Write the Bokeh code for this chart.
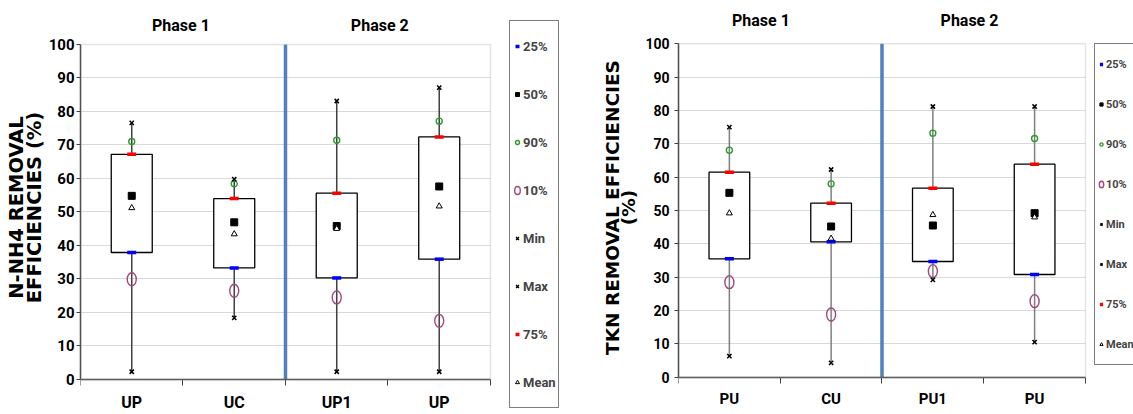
from bokeh.plotting import figure
from bokeh.models import Range1d, FixedTicker, Label, Legend, LegendItem, BoxAnnotation
from bokeh.layouts import row
from bokeh.embed import file_html
from bokeh.resources import INLINE

# ---------------- data ----------------
left_categories = ["UP", "UC", "UP1", "UP"]
left_phases = ["Phase 1", "Phase 2"]
left_min = [2.3, 18.4, 2.3, 2.3]
left_p10 = [29.9, 26.5, 24.5, 17.5]
left_p25 = [37.9, 33.3, 30.3, 35.9]
left_p50 = [54.8, 46.9, 45.8, 57.6]
left_mean = [51.2, 43.4, 45.0, 51.7]
left_p75 = [67.2, 54.0, 55.6, 72.4]
left_p90 = [71.0, 58.4, 71.4, 77.1]
left_max = [76.6, 59.8, 83.1, 87.1]

right_categories = ["PU", "CU", "PU1", "PU"]
right_phases = ["Phase 1", "Phase 2"]
right_min = [6.3, 4.3, 29.2, 10.5]
right_p10 = [28.5, 18.8, 31.8, 22.8]
right_p25 = [35.5, 40.6, 34.7, 30.8]
right_p50 = [55.3, 45.2, 45.5, 49.2]
right_mean = [49.2, 41.6, 48.7, 48.0]
right_p75 = [61.5, 52.2, 56.7, 63.9]
right_p90 = [68.1, 58.0, 73.2, 71.6]
right_max = [75.0, 62.3, 81.2, 81.2]

y_ticks = [0, 10, 20, 30, 40, 50, 60, 70, 80, 90, 100]
Y_MAX = 100

NARROW = "Roboto"
WIDE = "DejaVu Sans"


def make_chart(cats, phases, mn, p10, p25, p50, mean, p75, p90, mx, ylabel, cfg):
    n = len(cats)
    xs = [i + 0.5 for i in range(n)]
    p = figure(width=cfg["width"], height=414,
               x_range=Range1d(0, cfg["xend"]), y_range=Range1d(cfg["ybot"], cfg["ytop"]),
               output_backend="svg", toolbar_location=None,
               min_border_left=cfg["bl"], min_border_right=0,
               min_border_top=0, min_border_bottom=0)
    p.outline_line_color = None
    p.background_fill_color = "white"
    p.border_fill_color = "white"

    # plot-area border (grey)
    p.add_layout(BoxAnnotation(left=0, right=n, bottom=0, top=Y_MAX,
                               fill_alpha=0, line_color="#a6a6a6", line_width=1.5))

    # horizontal grid lines limited to the plot area
    p.xgrid.visible = False
    p.ygrid.ticker = FixedTicker(ticks=y_ticks[1:-1])
    p.ygrid.grid_line_color = "#d9d9d9"
    p.ygrid.grid_line_width = 1
    try:
        p.ygrid.cross_bounds = (0, n)
    except Exception:
        p.ygrid.visible = False
        gy = y_ticks[1:-1]
        p.segment(x0=[0] * len(gy), y0=gy, x1=[n] * len(gy), y1=gy,
                  line_color="#d9d9d9", line_width=1)

    # y axis
    p.yaxis.ticker = FixedTicker(ticks=y_ticks)
    p.yaxis.bounds = (0, Y_MAX)
    p.yaxis.axis_line_color = "#404040"
    p.yaxis.axis_line_width = 1.5
    p.yaxis.major_tick_out = 4
    p.yaxis.major_tick_in = 0
    p.yaxis.minor_tick_line_color = None
    p.yaxis.major_tick_line_color = "#404040"
    p.yaxis.major_label_text_font = NARROW
    p.yaxis.major_label_text_font_style = "bold"
    p.yaxis.major_label_text_font_size = cfg["tick_fs"]
    p.yaxis.major_label_text_color = "black"
    p.yaxis.major_label_standoff = cfg["tick_standoff"]
    p.yaxis.axis_label = ylabel
    p.yaxis.axis_label_text_font = WIDE
    p.yaxis.axis_label_text_font_style = "bold"
    p.yaxis.axis_label_text_font_size = cfg["title_fs"]
    p.yaxis.axis_label_text_line_height = cfg["title_lh"]
    p.yaxis.axis_label_text_color = "black"
    p.yaxis.axis_label_standoff = cfg["title_standoff"]

    # x axis drawn at y = 0: labels at category centres, tick marks at boundaries
    p.xaxis.fixed_location = 0
    p.xaxis.bounds = (0, n)
    p.xaxis.ticker = FixedTicker(ticks=xs, minor_ticks=list(range(n + 1)))
    p.xaxis.major_label_overrides = {x: c for x, c in zip(xs, cats)}
    p.xaxis.axis_line_color = "#404040"
    p.xaxis.axis_line_width = 1.5
    p.xaxis.major_tick_line_color = None
    p.xaxis.major_tick_out = 0
    p.xaxis.major_tick_in = 0
    p.xaxis.minor_tick_line_color = "#404040"
    p.xaxis.minor_tick_out = 6
    p.xaxis.minor_tick_in = 0
    p.xaxis.major_label_text_font = NARROW
    p.xaxis.major_label_text_font_style = "bold"
    p.xaxis.major_label_text_font_size = cfg["xlab_fs"]
    p.xaxis.major_label_text_color = "black"
    p.xaxis.major_label_standoff = cfg["xlab_standoff"]

    # phase separator
    p.segment(x0=[n / 2], y0=[0], x1=[n / 2], y1=[Y_MAX],
              line_color="#4f81bd", line_width=3.5)

    # whiskers and boxes
    p.segment(x0=xs, y0=mn, x1=xs, y1=mx, line_color=cfg["whisker"], line_width=1.5)
    p.vbar(x=xs, width=0.4, bottom=p25, top=p75, fill_color="white",
           line_color="black", line_width=1.3)

    r25 = p.scatter(xs, p25, marker="dash", size=9, line_color="#0000ff", line_width=3.5)
    r50 = p.scatter(xs, p50, marker="square", size=7, fill_color="black", line_color="black")
    r90 = p.scatter(xs, p90, marker="circle", size=6, fill_color=None,
                    line_color="#2e9a2e", line_width=1.4)
    r10 = p.ellipse(xs, p10, width=9, height=13, width_units="screen",
                    height_units="screen", fill_color=None, line_color="#a3477d", line_width=1.4)
    rmin = p.scatter(xs, mn, marker="x", size=6, line_color="black", line_width=1.5)
    rmax = p.scatter(xs, mx, marker="x", size=6, line_color="black", line_width=1.5)
    r75 = p.scatter(xs, p75, marker="dash", size=9, line_color="#ff0000", line_width=3.5)
    rmean = p.scatter(xs, mean, marker="triangle", size=6, fill_color="white",
                      line_color="black", line_width=1)

    legend = Legend(items=[
        LegendItem(label="25%", renderers=[r25]),
        LegendItem(label="50%", renderers=[r50]),
        LegendItem(label="90%", renderers=[r90]),
        LegendItem(label="10%", renderers=[r10]),
        LegendItem(label="Min", renderers=[rmin]),
        LegendItem(label="Max", renderers=[rmax]),
        LegendItem(label="75%", renderers=[r75]),
        LegendItem(label="Mean", renderers=[rmean]),
    ], location=cfg["legend_loc"])
    legend.border_line_color = "black"
    legend.border_line_width = 1
    legend.background_fill_color = "white"
    legend.background_fill_alpha = 1
    legend.label_text_font = NARROW
    legend.label_text_font_style = "bold"
    legend.label_text_font_size = cfg["leg_fs"]
    legend.glyph_width = cfg["leg_gw"]
    legend.glyph_height = cfg["leg_h"]
    legend.label_height = cfg["leg_h"]
    legend.label_standoff = 1
    legend.padding = 2
    legend.spacing = cfg["leg_sp"]
    legend.margin = 0
    p.add_layout(legend)

    # phase titles
    for i, ph in enumerate(phases):
        p.add_layout(Label(x=cfg["phase_x"][i], y=cfg["phase_y"], text=ph,
                           text_font=NARROW, text_font_style="bold",
                           text_font_size=cfg["phase_fs"], text_align="center",
                           text_baseline="middle", text_color="black"))
    return p


left_cfg = dict(width=565, bl=80, xend=4.732, ybot=-10.45, ytop=113.1,
                tick_fs="15px", tick_standoff=2, title_standoff=0,
                title_fs="19.5px", title_lh=0.78, xlab_fs="16px", xlab_standoff=8,
                whisker="#404040", legend_loc=(429, 6), leg_fs="13px", leg_gw=10, leg_h=46, leg_sp=2,
                phase_x=[0.98, 2.92], phase_y=105.7, phase_fs="16px")
right_cfg = dict(width=568, bl=113, xend=4.472, ybot=-11.2, ytop=113.0,
                 tick_fs="14px", tick_standoff=5, title_standoff=3,
                 title_fs="18.5px", title_lh=0.8, xlab_fs="15px", xlab_standoff=7,
                 whisker="#7f7f7f", legend_loc=(416, 49), leg_fs="11px", leg_gw=8, leg_h=36, leg_sp=4,
                 phase_x=[0.81, 2.86], phase_y=107.0, phase_fs="16px")

p_left = make_chart(left_categories, left_phases, left_min, left_p10, left_p25, left_p50,
                    left_mean, left_p75, left_p90, left_max,
                    "N-NH4 REMOVAL\nEFFICIENCIES (%)", left_cfg)
p_right = make_chart(right_categories, right_phases, right_min, right_p10, right_p25, right_p50,
                     right_mean, right_p75, right_p90, right_max,
                     "TKN REMOVAL EFFICIENCIES\n(%)", right_cfg)

layout = row(p_left, p_right, spacing=0)
open("out.html", "w").write(file_html(layout, INLINE))
